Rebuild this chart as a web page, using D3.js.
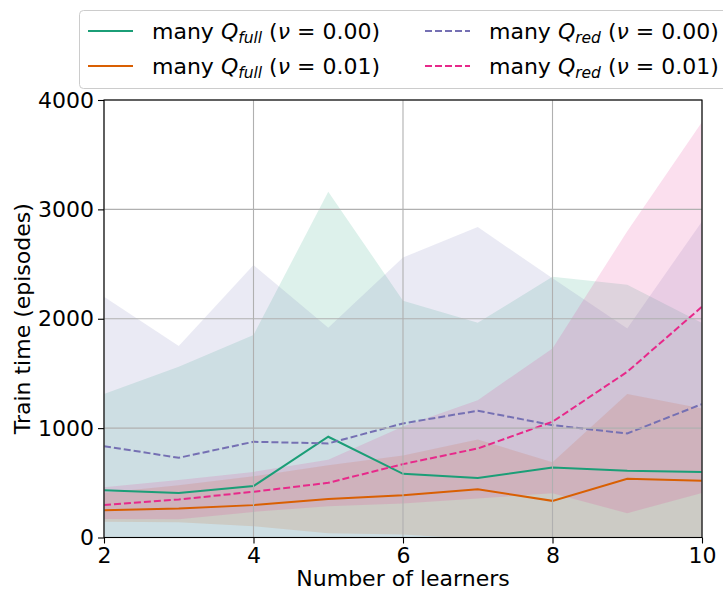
<!DOCTYPE html>
<html>
<head>
<meta charset="utf-8">
<script src="https://cdn.jsdelivr.net/npm/d3@7"></script>
<style>
  body { margin: 0; background: #fff; }
  svg { display: block; font-family: 'DejaVu Sans', sans-serif; }
</style>
</head>
<body>
<div id="chart"></div>
<script>
// number of learners
const learners = [2, 3, 4, 5, 6, 7, 8, 9, 10];

// many Q_full (nu = 0.00)
const fullNu0Mean = [433, 408, 470, 921, 582, 543, 640, 610, 598];
const fullNu0Upper = [1311, 1561, 1851, 3162, 2165, 1963, 2384, 2312, 1962];
const fullNu0Lower = [-445, -745, -911, -1320, -1001, -877, -1104, -1092, -766];

// many Q_full (nu = 0.01)
const fullNu1Mean = [250, 265, 296, 351, 387, 442, 335, 537, 518];
const fullNu1Upper = [410, 478, 560, 661, 750, 897, 688, 1311, 1180];
const fullNu1Lower = [143, 140, 104, 40, 28, -15, -20, -240, -145];

// many Q_red (nu = 0.00)
const redNu0Mean = [835, 729, 875, 860, 1043, 1159, 1027, 951, 1220];
const redNu0Upper = [2201, 1750, 2491, 1918, 2560, 2838, 2370, 1912, 2890];
const redNu0Lower = [-531, -292, -741, -198, -474, -520, -316, -10, -450];

// many Q_red (nu = 0.01)
const redNu1Mean = [296, 348, 418, 500, 671, 814, 1058, 1515, 2110];
const redNu1Upper = [460, 525, 600, 710, 1015, 1256, 1729, 2800, 3800];
const redNu1Lower = [170, 168, 234, 286, 311, 357, 405, 222, 408];

const xTicks = [2, 4, 6, 8, 10];
const yTicks = [0, 1000, 2000, 3000, 4000];

const series = [
  { sub: 'full', nu: '0.00', color: '#1b9e77', dash: null, mean: fullNu0Mean, lo: fullNu0Lower, hi: fullNu0Upper },
  { sub: 'full', nu: '0.01', color: '#d95f02', dash: null, mean: fullNu1Mean, lo: fullNu1Lower, hi: fullNu1Upper },
  { sub: 'red', nu: '0.00', color: '#7570b3', dash: '7,3', mean: redNu0Mean, lo: redNu0Lower, hi: redNu0Upper },
  { sub: 'red', nu: '0.01', color: '#e7298a', dash: '7,3', mean: redNu1Mean, lo: redNu1Lower, hi: redNu1Upper },
];

const W = 723, H = 592;
const margin = { top: 100, right: 21, bottom: 54.5, left: 104 };
const width = W - margin.left - margin.right;
const height = H - margin.top - margin.bottom;

const svg = d3.select('#chart')
  .append('svg')
  .attr('width', W)
  .attr('height', H);

svg.append('defs')
  .append('clipPath')
  .attr('id', 'plot-clip')
  .append('rect')
  .attr('width', width)
  .attr('height', height);

const g = svg.append('g')
  .attr('transform', `translate(${margin.left},${margin.top})`);

const x = d3.scaleLinear().domain([2, 10]).range([0, width]);
const y = d3.scaleLinear().domain([0, 4000]).range([height, 0]);

const plot = g.append('g').attr('clip-path', 'url(#plot-clip)');

// shaded bands first
const area = d3.area()
  .x((d) => x(d.x))
  .y0((d) => y(d.lo))
  .y1((d) => y(d.hi));

series.forEach((s) => {
  const pts = learners.map((v, i) => ({ x: v, lo: s.lo[i], hi: s.hi[i] }));
  plot.append('path')
    .datum(pts)
    .attr('d', area)
    .attr('fill', s.color)
    .attr('fill-opacity', 0.15);
});

// grid
g.append('g')
  .selectAll('line')
  .data(xTicks)
  .enter()
  .append('line')
  .attr('x1', (d) => x(d))
  .attr('x2', (d) => x(d))
  .attr('y1', 0)
  .attr('y2', height)
  .attr('stroke', '#b0b0b0')
  .attr('stroke-width', 1.1);

g.append('g')
  .selectAll('line')
  .data(yTicks)
  .enter()
  .append('line')
  .attr('x1', 0)
  .attr('x2', width)
  .attr('y1', (d) => y(d))
  .attr('y2', (d) => y(d))
  .attr('stroke', '#b0b0b0')
  .attr('stroke-width', 1.1);

// mean lines
const line = d3.line()
  .x((d) => x(d.x))
  .y((d) => y(d.v));

series.forEach((s) => {
  const pts = learners.map((v, i) => ({ x: v, v: s.mean[i] }));
  plot.append('path')
    .datum(pts)
    .attr('d', line)
    .attr('fill', 'none')
    .attr('stroke', s.color)
    .attr('stroke-width', 2)
    .attr('stroke-dasharray', s.dash);
});

// axes
const xAxis = g.append('g')
  .attr('transform', `translate(0,${height})`)
  .call(d3.axisBottom(x).tickValues(xTicks).tickSize(6).tickPadding(4));

const yAxis = g.append('g')
  .call(d3.axisLeft(y).tickValues(yTicks).tickSize(6).tickPadding(4).tickFormat(d3.format('d')));

[xAxis, yAxis].forEach((ax) => {
  ax.select('.domain').remove();
  ax.selectAll('line').attr('stroke', '#000').attr('stroke-width', 1.1);
  ax.selectAll('text')
    .attr('fill', '#000')
    .style('font-size', '22px')
    .style('font-family', 'DejaVu Sans, sans-serif');
});

// frame
g.append('rect')
  .attr('width', width)
  .attr('height', height)
  .attr('fill', 'none')
  .attr('stroke', '#000')
  .attr('stroke-width', 1.1);

svg.append('text')
  .attr('x', margin.left + width / 2)
  .attr('y', 586)
  .attr('text-anchor', 'middle')
  .style('font-size', '22px')
  .text('Number of learners');

svg.append('text')
  .attr('transform', `translate(30,${margin.top + height / 2}) rotate(-90)`)
  .attr('text-anchor', 'middle')
  .style('font-size', '22px')
  .text('Train time (episodes)');

// legend
const legend = svg.append('g');

legend.append('rect')
  .attr('x', 79.5)
  .attr('y', 10.5)
  .attr('width', 660)
  .attr('height', 78)
  .attr('rx', 4)
  .attr('fill', '#fff')
  .attr('fill-opacity', 0.8)
  .attr('stroke', '#cccccc')
  .attr('stroke-width', 1);

const cols = [88, 425];
const rows = [31, 66];

series.forEach((s, i) => {
  const lx = cols[Math.floor(i / 2)];
  const ly = rows[i % 2];
  legend.append('line')
    .attr('x1', lx)
    .attr('x2', lx + 45)
    .attr('y1', ly)
    .attr('y2', ly)
    .attr('stroke', s.color)
    .attr('stroke-width', 2)
    .attr('stroke-dasharray', s.dash);

  const t = legend.append('text')
    .attr('x', lx + 64)
    .attr('y', ly + 8)
    .style('font-size', '22px');
  t.append('tspan').text('many ');
  t.append('tspan').style('font-style', 'italic').text('Q');
  t.append('tspan')
    .style('font-style', 'italic')
    .style('font-size', '15.5px')
    .attr('dy', 4)
    .text(s.sub);
  t.append('tspan').attr('dy', -4).text(' (');
  t.append('tspan').style('font-style', 'italic').text('ν');
  t.append('tspan').text(` = ${s.nu})`);
});
</script>
</body>
</html>
